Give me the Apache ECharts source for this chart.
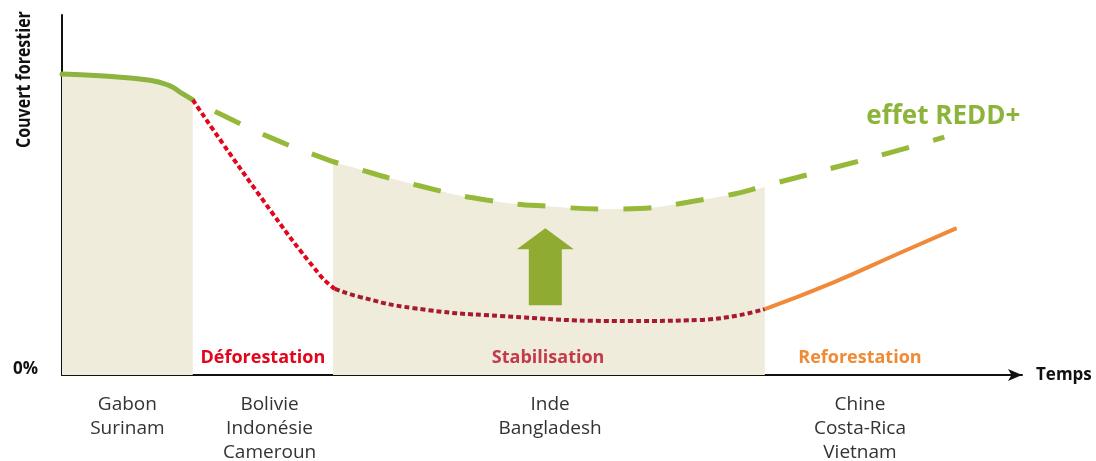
<!DOCTYPE html>
<html><head><meta charset="utf-8">
<script src="https://cdn.jsdelivr.net/npm/echarts@6/dist/echarts.min.js"></script>
<style>html,body{margin:0;padding:0;background:#fff}#c{width:1096px;height:461px}</style>
</head><body><div id="c"></div>
<script>
// time axis 0..100 (arbitrary units), forest cover 0..100 %
const gabonCover   = [[0,83.6],[4.0,83.1],[9.3,81.9],[11.4,80.3],[12.45,78.6],[13.8,76.4]];
const deforest     = [[13.8,76.4],[21.2,48.6],[27.2,27.8],[28.8,23.9]];
const stabilise    = [[28.8,23.9],[31.4,21.7],[37.0,18.6],[46.2,16.4],[59.9,15.0],[67.3,15.3],[74.16,18.3]];
const reforest     = [[74.16,18.3],[81.3,25.6],[88.4,33.9],[94.4,40.8]];
const reddEffect   = [[13.8,76.4],[16.7,72.5],[22.15,65.8],[27.5,60.3],[30.1,58.1],[37.8,52.5],[44.8,48.6],[52.2,46.7],[58.1,46.1],[68.7,49.2],[75.7,53.6],[81.3,57.5],[87.3,61.7],[93.1,66.1]];
const stabShade    = [[28.6,59.2],[30.1,58.1],[37.8,52.5],[44.8,48.6],[52.2,46.7],[58.1,46.1],[68.7,49.2],[74.16,52.2]];
const phaseNames   = ['Déforestation','Stabilisation','Reforestation'];
const phaseX       = [21.2, 51.3, 84.2];
const phaseColors  = ['#e3051b','#c23a4b','#f08a33'];
const countryNames = ['Gabon\nSurinam','Bolivie\nIndonésie\nCameroun','Inde\nBangladesh','Chine\nCosta-Rica\nVietnam'];
const countryX     = [6.9, 21.9, 51.5, 84.2];
const arrowPos     = [51.0, 30.1];
const reddLabelPos = [93.0, 71.7];

const beige = '#efecdc';
const green = '#8db43f';
const F = '"Open Sans", sans-serif';

const chart = echarts.init(document.getElementById('c'));
chart.setOption({
  animation: false,
  backgroundColor: '#fff',
  grid: {left: 62, right: 74, top: 15, bottom: 86, containLabel: false},
  xAxis: {
    type: 'value', min: 0, max: 101.3,
    axisLine: {lineStyle: {color: '#111', width: 2}, symbol: ['none','arrow'], symbolSize: [9,14]},
    axisTick: {show: false}, axisLabel: {show: false}, splitLine: {show: false},
    name: 'Temps', nameLocation: 'end', nameGap: 14,
    nameTextStyle: {fontFamily: F, fontWeight: 'bold', fontSize: 17, color: '#111', verticalAlign: 'middle'}
  },
  yAxis: {
    type: 'value', min: 0, max: 100, interval: 100,
    axisLine: {show: true, lineStyle: {color: '#111', width: 2}},
    axisTick: {show: false}, splitLine: {show: false},
    axisLabel: {margin: 24, fontFamily: F, fontWeight: 'bold', fontSize: 17, color: '#111',
      formatter: v => v === 0 ? '0%' : '', verticalAlign: 'bottom', padding: [0,0,-3,0]}
  },
  graphic: [{
    type: 'text',
    style: {text: 'Couvert forestier', font: 'bold 20px "Open Sans", sans-serif', fill: '#111'},
    rotation: Math.PI/2, scaleX: 0.8, originX: 0, originY: 0,
    position: [14, 148]
  }],
  series: [
    {type: 'line', data: stabShade, smooth: true, symbol: 'none', lineStyle: {width: 0, opacity: 0},
     areaStyle: {color: beige, opacity: 1}, z: 1},
    {type: 'line', data: gabonCover, smooth: true, symbol: 'none',
     lineStyle: {color: green, width: 5, cap: 'round'}, areaStyle: {color: beige, opacity: 1}, z: 3},
    {type: 'line', data: reddEffect, smooth: true, symbol: 'none',
     lineStyle: {color: '#96b93a', width: 5, type: [28,25], dashOffset: 28}, z: 3},
    {type: 'line', data: deforest, smooth: true, symbol: 'none',
     lineStyle: {color: '#e3051b', width: 4, type: [5,3]}, z: 3},
    {type: 'line', data: stabilise, smooth: true, symbol: 'none',
     lineStyle: {color: '#a8182e', width: 4, type: [5,3]}, z: 3},
    {type: 'line', data: reforest, smooth: true, symbol: 'none',
     lineStyle: {color: '#f0893a', width: 4}, z: 3},
    {type: 'scatter', data: [arrowPos], z: 4, silent: true,
     symbol: 'path://M28.5,0 L57,21 L45,21 L45,77 L12,77 L12,21 L0,21 Z', symbolSize: [57,77],
     itemStyle: {color: '#8fab31', opacity: 1}},
    {type: 'scatter', clip: false, symbolSize: 0, z: 5, silent: true, itemStyle: {opacity: 1},
     data: phaseNames.map((n,i) => ({value: [phaseX[i], 4.7], name: n,
       label: {color: phaseColors[i]}})),
     label: {show: true, position: 'inside', formatter: p => p.name,
       fontFamily: F, fontWeight: 'bold', fontSize: 18}},
    {type: 'scatter', clip: false, symbolSize: 0, z: 5, silent: true, itemStyle: {opacity: 1},
     data: countryNames.map((n,i) => ({value: [countryX[i], -5], name: n})),
     label: {show: true, position: 'bottom', distance: 0, formatter: p => p.name,
       fontFamily: F, fontSize: 19, lineHeight: 24, color: '#333', align: 'center'}},
    {type: 'scatter', clip: false, symbolSize: 0, z: 5, silent: true, itemStyle: {opacity: 1},
     data: [{value: reddLabelPos, name: 'effet REDD+'}],
     label: {show: true, position: 'inside', formatter: p => p.name,
       fontFamily: F, fontWeight: 'bold', fontSize: 26, color: '#8cb43a'}}
  ]
});
</script></body></html>
